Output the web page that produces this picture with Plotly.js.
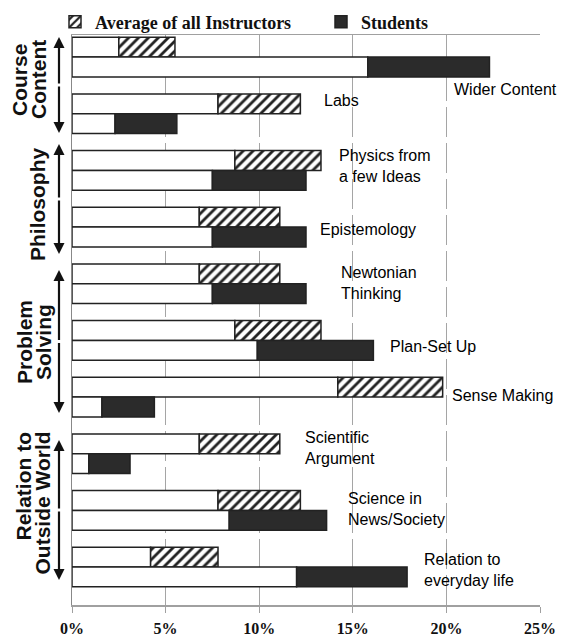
<!DOCTYPE html>
<html>
<head>
<meta charset="utf-8">
<script src="https://cdn.plot.ly/plotly-3.0.1.min.js"></script>
<style>html,body{margin:0;padding:0;background:#fff;}#chart{width:561px;height:641px;}</style>
</head>
<body>
<div id="chart"></div>
<script>
// ---- data ----
var categories = ['Wider Content','Labs','Physics from a few Ideas','Epistemology','Newtonian Thinking','Plan-Set Up','Sense Making','Scientific Argument','Science in News/Society','Relation to everyday life'];
var instructorLow  = [2.5, 7.8, 8.7, 6.8, 6.8, 8.7, 14.2, 6.8, 7.8, 4.2];
var instructorHigh = [5.5, 12.2, 13.3, 11.1, 11.1, 13.3, 19.8, 11.1, 12.2, 7.8];
var studentLow     = [15.8, 2.3, 7.5, 7.5, 7.5, 9.9, 1.6, 0.9, 8.4, 12.0];
var studentHigh    = [22.3, 5.6, 12.5, 12.5, 12.5, 16.1, 4.4, 3.1, 13.6, 17.9];
var categoryLabels = ['Wider Content','Labs','Physics from<br>a few Ideas','Epistemology','Newtonian<br>Thinking','Plan-Set Up','Sense Making','Scientific<br>Argument','Science in<br>News/Society','Relation to<br>everyday life'];
var tickValues = [0, 5, 10, 15, 20, 25];
var tickLabels = ['0%', '5%', '10%', '15%', '20%', '25%'];
var groups = [
  {lines: ['Course', 'Content']},
  {lines: ['Philosophy']},
  {lines: ['Problem', 'Solving']},
  {lines: ['Relation to', 'Outside World']}
];

// ---- layout config (positions / styles) ----
var labelPos = [[20.3,0.58],[13.35,0.76],[14.15,1.92],[13.14,3.05],[14.26,3.99],[16.88,5.10],[20.19,5.98],[12.34,6.90],[14.64,7.97],[18.70,9.05]];
var groupGeom = [
  {xs:[19,38], yc:80, anchor:'center', arrow:[37,133]},
  {xs:[37], yc:205, anchor:'center', arrow:[144,254]},
  {xs:[24,43], yc:342, anchor:'center', arrow:[270,413]},
  {xs:[23,42], ytop:430, anchor:'top', arrow:[440,580]}
];

var W = 561, H = 641, M = {l:72, r:21, t:35, b:36, autoexpand:false};
var pw = W - M.l - M.r, ph = H - M.t - M.b;
function px2paperX(x){ return (x - M.l) / pw; }
function px2paperY(y){ return (H - M.b - y) / ph; }

var barW = 0.35;
var lineStyle = {color:'#222', width:1.5};
var diff = function(a,b){ return a.map(function(v,i){ return v - b[i]; }); };

var traces = [
  {type:'bar', orientation:'h', y:categories, x:instructorLow, offset:-barW, width:barW,
   marker:{color:'#fff', line:lineStyle}, showlegend:false, hoverinfo:'skip'},
  {type:'bar', orientation:'h', y:categories, x:diff(instructorHigh, instructorLow), base:instructorLow,
   offset:-barW, width:barW, name:'Average of all Instructors', legend:'legend',
   marker:{color:'#fff', line:lineStyle, pattern:{shape:'/', fgcolor:'#222', bgcolor:'#fff', size:7, solidity:0.4}}},
  {type:'bar', orientation:'h', y:categories, x:studentLow, offset:0, width:barW,
   marker:{color:'#fff', line:lineStyle}, showlegend:false, hoverinfo:'skip'},
  {type:'bar', orientation:'h', y:categories, x:diff(studentHigh, studentLow), base:studentLow,
   offset:0, width:barW, name:'Students', legend:'legend2',
   marker:{color:'#2b2b2b', line:lineStyle}}
];

var annotations = [];
categoryLabels.forEach(function(t, i){
  annotations.push({xref:'x', yref:'y', x:labelPos[i][0], y:labelPos[i][1], text:t, showarrow:false,
    xanchor:'left', yanchor:'middle', align:'left',
    font:{family:'Liberation Sans, Arial, sans-serif', size:16, color:'#000'}});
});
groups.forEach(function(g, gi){
  var geo = groupGeom[gi];
  g.lines.forEach(function(line, li){
    var a = {xref:'paper', yref:'paper', x:px2paperX(geo.xs[li]), text:line, showarrow:false, textangle:-90,
      xanchor:'center', font:{family:'Liberation Sans, Arial, sans-serif', size:21, color:'#111', weight:'bold'}};
    if (geo.anchor === 'top') { a.y = px2paperY(geo.ytop); a.yanchor = 'top'; }
    else { a.y = px2paperY(geo.yc); a.yanchor = 'middle'; }
    annotations.push(a);
  });
  var half = (geo.arrow[1] - geo.arrow[0]) / 2;
  [[geo.arrow[0], half], [geo.arrow[1], -half]].forEach(function(p){
    annotations.push({xref:'paper', yref:'paper', x:px2paperX(59), y:px2paperY(p[0]), ax:0, ay:p[1],
      text:'', showarrow:true, arrowhead:2, arrowsize:1, arrowwidth:2.2, arrowcolor:'#111'});
  });
});

var legendFont = {family:'Liberation Serif, Times New Roman, serif', size:18, color:'#111', weight:'bold'};
var layout = {
  width:W, height:H, margin:M, paper_bgcolor:'#fff', plot_bgcolor:'#fff',
  barmode:'overlay', bargap:0,
  font:{family:'Liberation Sans, Arial, sans-serif'},
  xaxis:{range:[0,25], tickvals:tickValues, ticktext:tickLabels, showgrid:true, gridcolor:'#a5a5a5', gridwidth:1,
    griddash:'30px,6px', showline:true, mirror:true, linecolor:'#a0a0a0', linewidth:1.5, ticks:'outside', ticklen:6,
    tickcolor:'#a0a0a0', zeroline:false, ticklabelstandoff:2, automargin:false,
    tickfont:{family:'Liberation Serif, Times New Roman, serif', size:16, color:'#111', weight:'bold'}},
  yaxis:{type:'category', range:[9.67,-0.39], showticklabels:false, showgrid:false, zeroline:false,
    showline:true, linecolor:'#888', linewidth:1.5, ticks:'', automargin:false},
  showlegend:true,
  legend:{orientation:'h', x:px2paperX(55), y:px2paperY(22), xanchor:'left', yanchor:'middle', font:legendFont,
    bgcolor:'rgba(0,0,0,0)', borderwidth:0},
  legend2:{orientation:'h', x:px2paperX(321), y:px2paperY(22), xanchor:'left', yanchor:'middle', font:legendFont,
    bgcolor:'rgba(0,0,0,0)', borderwidth:0},
  annotations:annotations
};

Plotly.newPlot('chart', traces, layout, {displayModeBar:false, staticPlot:true});
</script>
</body>
</html>
